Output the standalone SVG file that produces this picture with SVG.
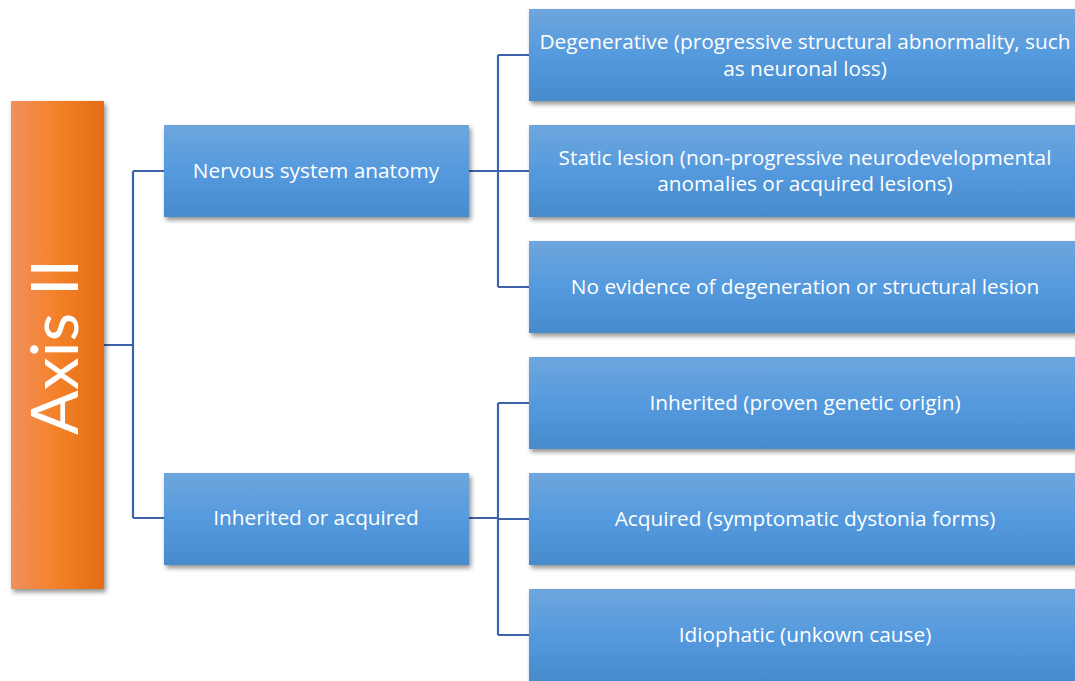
<svg xmlns="http://www.w3.org/2000/svg" width="1075" height="681" viewBox="0 0 1075 681">
  <defs>
    <linearGradient id="blueFill" x1="0" y1="0" x2="0" y2="1">
      <stop offset="0" stop-color="#6ea6dc"/>
      <stop offset="0.5" stop-color="#559ade"/>
      <stop offset="1" stop-color="#468bcc"/>
    </linearGradient>
    <linearGradient id="orangeFill" x1="0" y1="0" x2="1" y2="0">
      <stop offset="0" stop-color="#f0915c"/>
      <stop offset="0.5" stop-color="#f48129"/>
      <stop offset="1" stop-color="#e36c12"/>
    </linearGradient>
    <filter id="shadow" x="-10%" y="-10%" width="130%" height="140%">
      <feGaussianBlur in="SourceAlpha" stdDeviation="2.5"/>
      <feOffset dx="2" dy="3" result="blur"/>
      <feComponentTransfer><feFuncA type="linear" slope="0.45"/></feComponentTransfer>
      <feMerge><feMergeNode/><feMergeNode in="SourceGraphic"/></feMerge>
    </filter>
  </defs>
  <style>
    .box { fill: url(#blueFill); filter: url(#shadow); }
    .root { fill: url(#orangeFill); filter: url(#shadow); }
    .label { fill: #ffffff; font-family: "Open Sans", "Noto Sans", sans-serif; font-size: 20.8px; text-anchor: middle; }
    .title { fill: #ffffff; font-family: "Lato", "Noto Sans", sans-serif; font-weight: 400; font-size: 66px; text-anchor: middle; }
    .link { fill: none; stroke: #3f63ab; stroke-width: 2.2; }
  </style>
  <rect width="1075" height="681" fill="#ffffff"/>

  <!-- connectors -->
  <g id="connectors">
    <path class="link" d="M104 345 H133 M133 171 V518 M133 171 H164 M133 518 H164"/>
    <path class="link" d="M469 171 H498 M498 55 V287 M498 55 H529 M498 171 H529 M498 287 H529"/>
    <path class="link" d="M469 518 H498 M498 403 V635 M498 403 H529 M498 519 H529 M498 635 H529"/>
  </g>

  <!-- root -->
  <g id="axis-ii">
    <rect class="root" x="11" y="101" width="93" height="488"/>
    <text class="title" transform="translate(78 347) rotate(-90)">Axis II</text>
  </g>

  <!-- second level -->
  <g id="nervous-system-anatomy">
    <rect class="box" x="164" y="125" width="305" height="92"/>
    <text class="label" x="316" y="178">Nervous system anatomy</text>
  </g>
  <g id="inherited-or-acquired">
    <rect class="box" x="164" y="473" width="305" height="92"/>
    <text class="label" x="316" y="525">Inherited or acquired</text>
  </g>

  <!-- third level -->
  <g id="degenerative">
    <rect class="box" x="529" y="9" width="552" height="92"/>
    <text class="label" x="805" y="49">Degenerative (progressive structural abnormality, such</text>
    <text class="label" x="805" y="76">as neuronal loss)</text>
  </g>
  <g id="static-lesion">
    <rect class="box" x="529" y="125" width="552" height="92"/>
    <text class="label" x="805" y="165">Static lesion (non-progressive neurodevelopmental</text>
    <text class="label" x="805" y="191">anomalies or acquired lesions)</text>
  </g>
  <g id="no-evidence">
    <rect class="box" x="529" y="241" width="552" height="92"/>
    <text class="label" x="805" y="294">No evidence of degeneration or structural lesion</text>
  </g>
  <g id="inherited">
    <rect class="box" x="529" y="357" width="552" height="92"/>
    <text class="label" x="805" y="410">Inherited (proven genetic origin)</text>
  </g>
  <g id="acquired">
    <rect class="box" x="529" y="473" width="552" height="92"/>
    <text class="label" x="805" y="526">Acquired (symptomatic dystonia forms)</text>
  </g>
  <g id="idiophatic">
    <rect class="box" x="529" y="589" width="552" height="92"/>
    <text class="label" x="805" y="642">Idiophatic (unkown cause)</text>
  </g>
</svg>
